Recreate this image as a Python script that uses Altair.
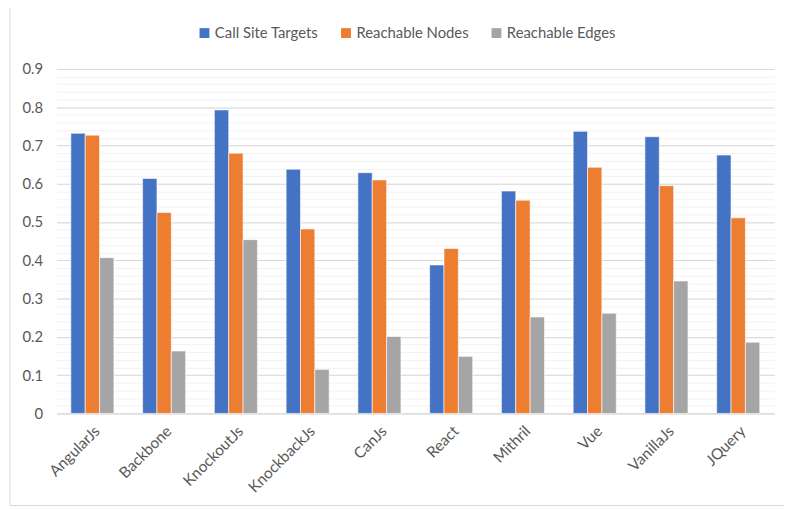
import altair as alt
import pandas as pd

categories = ["AngularJs", "Backbone", "KnockoutJs", "KnockbackJs", "CanJs",
              "React", "Mithril", "Vue", "VanillaJs", "JQuery"]
series = ["Call Site Targets", "Reachable Nodes", "Reachable Edges"]
call_site_targets = [0.732, 0.614, 0.793, 0.638, 0.629, 0.388, 0.581, 0.737, 0.723, 0.675]
reachable_nodes = [0.727, 0.525, 0.680, 0.482, 0.610, 0.431, 0.557, 0.643, 0.595, 0.511]
reachable_edges = [0.407, 0.163, 0.454, 0.115, 0.201, 0.149, 0.252, 0.262, 0.346, 0.186]
colors = ["#4472C4", "#ED7D31", "#A5A5A5"]
major_ticks = [0, 0.1, 0.2, 0.3, 0.4, 0.5, 0.6, 0.7, 0.8, 0.9]
minor_ticks = [round(i * 0.02, 2) for i in range(46)]

rows = []
for s, vals in zip(series, [call_site_targets, reachable_nodes, reachable_edges]):
    for c, v in zip(categories, vals):
        rows.append({"category": c, "series": s, "value": v})
df = pd.DataFrame(rows)

FONT = "Lato"
TXT = "#595959"

x_enc = alt.X("category:N", sort=categories, title=None,
              scale=alt.Scale(paddingInner=0.4, paddingOuter=0.2),
              axis=alt.Axis(labelAngle=-45, labelFontSize=15.5, labelColor=TXT,
                            labelFont=FONT, ticks=False, domainColor="#D9D9D9",
                            labelPadding=10, grid=False))
yscale = alt.Scale(domain=[0, 0.9], nice=False)

minor = alt.Chart(df).mark_bar(opacity=0).encode(
    x=x_enc,
    y=alt.Y("value:Q", scale=yscale, title=None,
            axis=alt.Axis(orient="left", values=minor_ticks, labels=False, ticks=False,
                          domain=False, grid=True, gridColor="#F2F2F2", gridWidth=1)),
)

bars = alt.Chart(df).mark_bar(stroke="white", strokeWidth=0.6).encode(
    x=x_enc,
    xOffset=alt.XOffset("series:N", sort=series, scale=alt.Scale(paddingInner=0)),
    y=alt.Y("value:Q", scale=yscale, title=None,
            axis=alt.Axis(orient="left", values=major_ticks, format=".1~f", ticks=False,
                          domain=False, grid=True, gridColor="#D9D9D9", gridWidth=1,
                          labelFontSize=15, labelColor=TXT, labelFont=FONT, labelPadding=14)),
    color=alt.Color("series:N", sort=series,
                    scale=alt.Scale(domain=series, range=colors),
                    legend=alt.Legend(title=None, orient="none", direction="horizontal",
                                      legendX=142, legendY=-44, symbolType="square",
                                      symbolSize=100, symbolStrokeWidth=0,
                                      labelFontSize=15, labelColor=TXT, labelFont=FONT,
                                      labelOffset=3, columnPadding=20)),
)

frame = alt.Chart(alt.Data(values=[{"a": 1}])).mark_rect(
    fill=None, stroke="#D9D9D9", strokeWidth=1
).encode(
    x=alt.value(-47), x2=alt.value(820), y=alt.value(-62), y2=alt.value(441)
)

chart = alt.layer(frame, minor, bars).resolve_scale(y="shared").resolve_axis(
    y="independent"
).properties(
    width=725, height=348,
    autosize=alt.AutoSizeParams(type="none"),
    padding={"left": 49, "top": 59, "right": 10, "bottom": 95},
    background="white",
).configure_view(stroke=None)

chart.save("out.html", embed_options={"renderer": "svg", "actions": False})
